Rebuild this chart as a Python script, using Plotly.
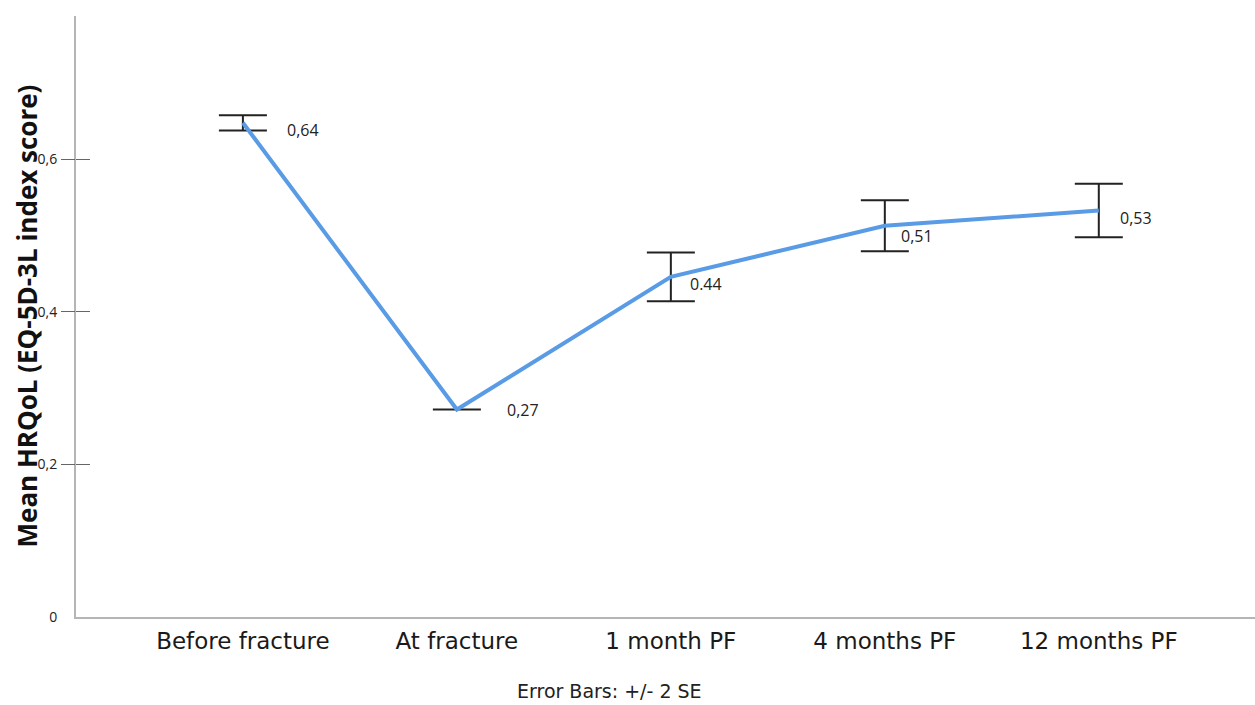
import plotly.graph_objects as go

categories = ["Before fracture", "At fracture", "1 month PF", "4 months PF", "12 months PF"]
mean_values = [0.648, 0.272, 0.446, 0.513, 0.533]
error_2se = [0.010, 0.0, 0.032, 0.0335, 0.035]
value_labels = ["0,64", "0,27", "0.44", "0,51", "0,53"]
y_tick_vals = [0, 0.2, 0.4, 0.6]
y_tick_text = ["0", "0,2", "0,4", "0,6"]

FONT = "Open Sans"
FONT2 = "DejaVu Sans"

fig = go.Figure()

fig.add_trace(go.Scatter(
    x=categories, y=mean_values,
    mode="lines",
    line=dict(color="#5a9be6", width=4),
    error_y=dict(type="data", array=error_2se, visible=True,
                 color="#222222", thickness=2, width=24),
    hoverinfo="skip", showlegend=False,
))

# dummy traces to anchor the overlay axes carrying the tick marks
for ax in ["y2", "y3"]:
    fig.add_trace(go.Scatter(x=categories, y=mean_values, yaxis=ax, mode="lines",
                             line=dict(width=0), opacity=0, hoverinfo="skip",
                             showlegend=False))

label_offsets = [(42, -7), (48, 0), (17, -7), (14, -10), (19, -8)]
for cat, val, lab, (dx, dy) in zip(categories, mean_values, value_labels, label_offsets):
    fig.add_annotation(x=cat, y=val, xref="x", yref="y", text=lab, showarrow=False,
                       xanchor="left", yanchor="middle", xshift=dx, yshift=dy,
                       font=dict(family=FONT, size=16, color="#222222"))

fig.add_annotation(x=0, y=0.5, xref="paper", yref="paper",
                   text="<b>Mean HRQoL (EQ-5D-3L index score)</b>",
                   textangle=-90, showarrow=False, xanchor="center", yanchor="middle",
                   xshift=-50, font=dict(family=FONT, size=26, color="#111111"))

fig.add_annotation(x=0.4525, y=0, xref="paper", yref="paper",
                   text="Error Bars: +/- 2 SE", showarrow=False,
                   xanchor="center", yanchor="middle", yshift=-74,
                   font=dict(family=FONT2, size=19, color="#222222"))

yrange = [0, 0.788]
fig.update_layout(
    width=1255, height=705,
    margin=dict(l=76, r=0, t=16, b=88),
    paper_bgcolor="white", plot_bgcolor="white",
    showlegend=False,
    xaxis=dict(type="category", range=[-0.78, 4.73], showgrid=False, zeroline=False,
               showline=True, linecolor="#b5b5b5", linewidth=2, ticks="",
               ticklabelstandoff=2,
               tickfont=dict(family=FONT2, size=23, color="#1a1a1a")),
    yaxis=dict(range=yrange, showgrid=False, zeroline=False, showline=True,
               linecolor="#b5b5b5", linewidth=2, ticks="",
               tickvals=y_tick_vals, ticktext=y_tick_text, ticklabelstandoff=14,
               tickfont=dict(family=FONT, size=14, color="#222222")),
    yaxis2=dict(range=yrange, overlaying="y", side="left", anchor="x",
                showgrid=False, zeroline=False, showline=False, showticklabels=False,
                tickvals=y_tick_vals[1:], ticks="outside", ticklen=14,
                tickcolor="#666666", tickwidth=1),
    yaxis3=dict(range=yrange, overlaying="y", side="left", anchor="x",
                showgrid=False, zeroline=False, showline=False, showticklabels=False,
                tickvals=y_tick_vals[1:], ticks="inside", ticklen=14,
                tickcolor="#666666", tickwidth=1),
)

fig.write_html("out.html", config={"displayModeBar": False},
               post_script="document.body.style.margin='0';")
